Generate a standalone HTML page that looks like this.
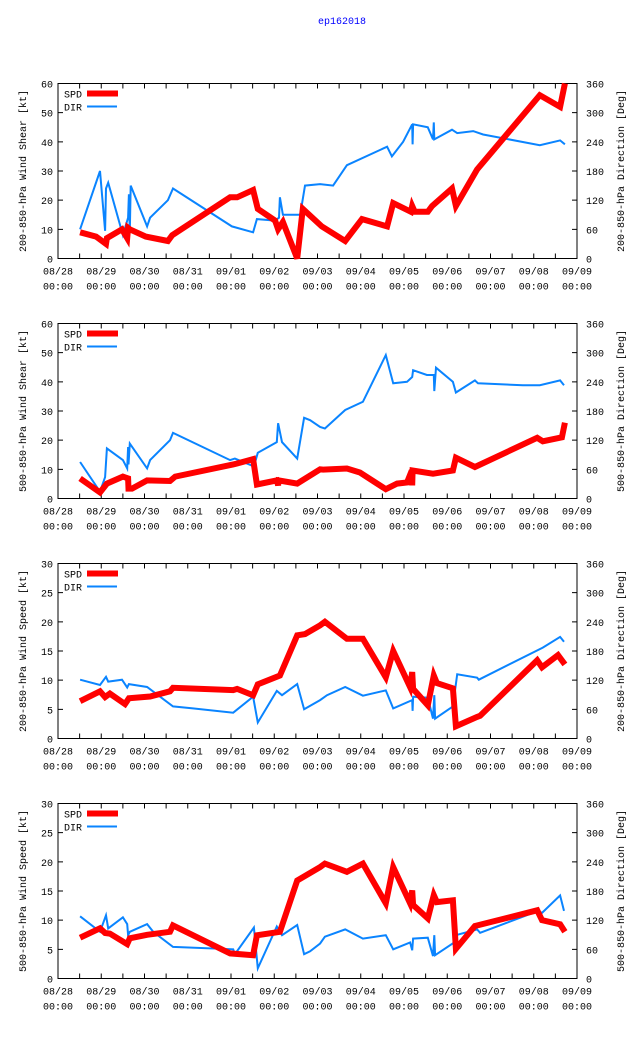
<!DOCTYPE html>
<html><head><meta charset="utf-8"><style>
body{margin:0;background:#fff}
svg{display:block;font-family:"Liberation Mono","DejaVu Sans Mono",monospace;font-size:10px}
</style></head><body>
<svg id="chart" width="640" height="1060" viewBox="0 0 640 1060">
<text x="342" y="24" text-anchor="middle" fill="#0000ff">ep162018</text>
</svg>
<script>
const xTickLabels = ["08/28","08/29","08/30","08/31","09/01","09/02","09/03","09/04","09/05","09/06","09/07","09/08","09/09"];
const yLeftTitles = ["200-850-hPa Wind Shear [kt]","500-850-hPa Wind Shear [kt]","200-850-hPa Wind Speed [kt]","500-850-hPa Wind Speed [kt]"];
const yRightTitles = ["200-850-hPa Direction [Deg]","500-850-hPa Direction [Deg]","200-850-hPa Direction [Deg]","500-850-hPa Direction [Deg]"];
const yLeftMax = [60,60,30,30];
const dirTicks = [0,60,120,180,240,300,360];

const p1SpdT = [0.51,0.88,1.11,1.13,1.48,1.60,1.62,1.66,2.03,2.54,2.64,3.98,4.14,4.51,4.62,5.02,5.09,5.20,5.53,5.66,6.10,6.64,7.03,7.61,7.75,8.16,8.19,8.25,8.55,8.65,9.11,9.20,9.69,11.14,11.61,11.72];
const p1SpdV = [9,7.5,5,7,10,7,10.5,10,7.5,6,8,21,21,23.5,17,13,10,12.5,0,17,11,6,13.5,11,19,16,18,16,16,18,24,18,30.5,56,52,60];
const p1DirT = [0.51,0.97,1.09,1.11,1.16,1.50,1.62,1.64,1.66,1.68,2.06,2.13,2.54,2.66,4.02,4.51,4.60,5.02,5.11,5.13,5.20,5.60,5.71,6.06,6.36,6.68,7.61,7.72,7.98,8.19,8.20,8.21,8.55,8.67,8.69,8.70,9.11,9.23,9.60,9.83,11.14,11.61,11.72];
const p1DirV = [60,180,57,144,156,48,84,132,54,150,66,84,120,144,66,54,81,78,84,126,90,90,150,153,150,192,230,210,240,276,235,276,270,245,280,245,265,258,262,255,233,243,235];

const p2SpdT = [0.51,0.97,1.13,1.50,1.62,1.63,1.71,2.06,2.59,2.71,4.05,4.14,4.51,4.60,5.06,5.09,5.10,5.53,6.06,6.13,6.68,6.98,7.58,7.84,8.07,8.18,8.19,8.20,8.67,9.13,9.20,9.64,11.08,11.21,11.65,11.72];
const p2SpdV = [6.9,2.1,5.1,7.5,6.9,3.4,3.4,6.2,6,7.5,11.7,12,13.5,4.8,6.2,4.5,6.2,5.1,10,9.9,10.3,8.9,3.2,5.1,5.5,9.6,4.5,9.6,8.5,9.6,14,10.8,20.8,19.6,21,26];
const p2DirT = [0.51,0.97,1.09,1.13,1.50,1.60,1.62,1.63,1.66,2.06,2.13,2.59,2.66,3.98,4.09,4.53,4.62,5.06,5.09,5.18,5.53,5.69,5.83,6.06,6.17,6.64,7.05,7.58,7.75,8.07,8.19,8.21,8.53,8.69,8.70,8.74,9.13,9.20,9.64,9.71,10.75,11.14,11.61,11.70];
const p2DirV = [75,14,44,103,79,62,106,70,113,62,79,120,135,79,82,66,94,116,155,116,82,166,161,147,144,182,199,295,237,240,250,264,254,254,221,269,240,218,243,237,233,233,243,233];

const p3SpdT = [0.51,0.97,1.09,1.20,1.55,1.64,2.13,2.59,2.66,4.05,4.14,4.51,4.62,5.13,5.53,5.71,6.06,6.17,6.68,7.05,7.58,7.75,8.14,8.19,8.21,8.55,8.69,8.76,9.13,9.20,9.69,9.76,11.08,11.19,11.56,11.72];
const p3SpdV = [6.4,8.1,7.1,7.7,5.9,6.9,7.2,8.1,8.7,8.3,8.5,7.4,9.3,10.8,17.7,17.9,19.4,20,17.1,17.1,10.5,15,8.8,11.4,8.5,5.7,10.8,9.5,8.6,2.1,3.7,3.9,13.4,12.2,14.3,12.7];
const p3DirT = [0.51,0.97,1.11,1.16,1.48,1.60,1.64,2.06,2.66,3.12,4.05,4.51,4.62,5.06,5.18,5.53,5.69,6.06,6.22,6.64,7.05,7.58,7.75,8.19,8.20,8.21,8.55,8.67,8.70,8.72,9.13,9.23,9.69,9.73,11.21,11.61,11.70];
const p3DirV = [121,110,127,117,121,105,112,106,66,62,53,86,33,98,89,112,60,79,89,106,88,99,62,79,57,86,84,41,89,41,66,132,125,121,187,209,199];

const p4SpdT = [0.51,0.97,1.09,1.20,1.60,1.66,2.06,2.59,2.66,3.98,4.51,4.60,5.13,5.53,6.06,6.17,6.68,7.05,7.58,7.75,8.14,8.19,8.21,8.55,8.69,8.76,9.13,9.20,9.64,11.08,11.19,11.61,11.72];
const p4SpdV = [7,8.6,7.8,7.7,5.9,6.9,7.5,8,9.1,4.3,4,7.4,8,16.8,19.1,19.7,18.3,19.7,12.9,19.1,12.9,15.1,12.6,10.3,14.3,13.1,13.4,5.1,9,11.7,10,9.3,8];
const p4DirT = [0.51,0.97,1.11,1.16,1.50,1.60,1.62,1.66,2.06,2.20,2.66,4.05,4.09,4.53,4.62,5.06,5.18,5.53,5.69,5.83,6.06,6.17,6.64,7.05,7.58,7.75,8.14,8.19,8.21,8.55,8.67,8.70,8.72,9.16,9.23,9.69,9.76,11.10,11.19,11.61,11.70];
const p4DirV = [128,96,130,103,126,112,89,96,112,96,65,60,50,105,21,107,89,110,50,56,72,86,101,82,89,60,74,58,82,84,46,89,48,74,90,101,94,139,135,171,139];

const panels = [
  {spdT:p1SpdT, spdV:p1SpdV, dirT:p1DirT, dirV:p1DirV},
  {spdT:p2SpdT, spdV:p2SpdV, dirT:p2DirT, dirV:p2DirV},
  {spdT:p3SpdT, spdV:p3SpdV, dirT:p3DirT, dirV:p3DirV},
  {spdT:p4SpdT, spdV:p4SpdV, dirT:p4DirT, dirV:p4DirV}
];

const NS = "http://www.w3.org/2000/svg";
const svg = document.getElementById('chart');
const L = 58, R = 577, H = 175;
const tops = [83.5, 323.5, 563.5, 803.5];
function mk(tag, attrs, parent){const e=document.createElementNS(NS,tag);for(const k in attrs)e.setAttribute(k,attrs[k]);(parent||svg).appendChild(e);return e;}
const xScale = d => L + d*(R-L)/12;

panels.forEach((p,i)=>{
  const top = tops[i], bot = top+H, ymax = yLeftMax[i];
  const yL = v => bot - v/ymax*H;
  const yR = v => bot - v/360*H;
  const g = mk('g',{});
  
  
  let d='';
  for(let k=0;k<=24;k++){const x=xScale(k/2);d+=`M${x},${bot}v-5M${x},${top}v5`;}
  for(let v=0;v<=ymax;v+=ymax/6){const y=yL(v);d+=`M${L},${y}h5`;}
  dirTicks.forEach(v=>{const y=yR(v);d+=`M${R},${y}h-5`;});
  const tk = mk('path',{d:d,stroke:'#000','stroke-width':1,fill:'none'},g);
  
  
  const fr = mk('rect',{x:L,y:top,width:R-L,height:H,fill:'none',stroke:'#000','stroke-width':1},g);
  
  
  for(let v=0;v<=ymax;v+=ymax/6){
    const t=mk('text',{x:L-5,y:yL(v)+4,'text-anchor':'end'},g);t.textContent=v;
    
    
  }
  dirTicks.forEach(v=>{
    const t=mk('text',{x:R+9,y:yR(v)+4},g);t.textContent=v;
    
    
  });
  xTickLabels.forEach((lab,k)=>{
    const x=xScale(k);
    const t=mk('text',{x:x,y:bot+16,'text-anchor':'middle'},g);t.textContent=lab;
    
    
    const t2=mk('text',{x:x,y:bot+31,'text-anchor':'middle'},g);t2.textContent='00:00';
    
    
  });
  const lt=mk('text',{x:0,y:0,'text-anchor':'middle',transform:`translate(26,${top+H/2}) rotate(-90)`},g);
  lt.textContent=yLeftTitles[i];
  
  
  const rt=mk('text',{x:0,y:0,'text-anchor':'middle',transform:`translate(624,${top+H/2}) rotate(-90)`},g);
  rt.textContent=yRightTitles[i];
  
  
  const n1=Math.min(p.dirT.length,p.dirV.length);
  let dd='';for(let k=0;k<n1;k++)dd+=(k?'L':'M')+xScale(p.dirT[k]).toFixed(1)+','+yR(p.dirV[k]).toFixed(1);
  const dl=mk('path',{d:dd,stroke:'#0a84ff','stroke-width':2,fill:'none'},g);
  
  
  const n2=Math.min(p.spdT.length,p.spdV.length);
  let sd='';for(let k=0;k<n2;k++)sd+=(k?'L':'M')+xScale(p.spdT[k]).toFixed(1)+','+yL(p.spdV[k]).toFixed(1);
  const sl=mk('path',{d:sd,stroke:'#ff0000','stroke-width':6,fill:'none','stroke-linejoin':'miter'},g);
  
  
  const s1=mk('text',{x:64,y:top+14},g);s1.textContent='SPD';
  
  
  const s2=mk('path',{d:`M87,${top+10}H118`,stroke:'#ff0000','stroke-width':6},g);
  
  
  const s3=mk('text',{x:64,y:top+27},g);s3.textContent='DIR';
  
  
  const s4=mk('path',{d:`M87,${top+23}H117`,stroke:'#0a84ff','stroke-width':2},g);
  
  
});
</script>
</body></html>
